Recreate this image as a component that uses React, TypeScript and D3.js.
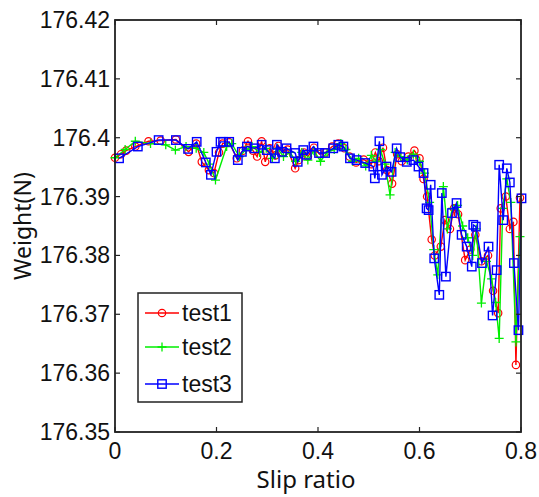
import React from "react";
import * as d3 from "d3";

const xTicks = [0, 0.2, 0.4, 0.6, 0.8];
const xTickLabels = ["0", "0.2", "0.4", "0.6", "0.8"];
const yTicks = [176.35, 176.36, 176.37, 176.38, 176.39, 176.4, 176.41, 176.42];
const yTickLabels = ["176.35", "176.36", "176.37", "176.38", "176.39", "176.4", "176.41", "176.42"];

const test1X = [0.000,0.012,0.022,0.040,0.066,0.090,0.120,0.145,0.160,0.171,0.185,0.195,0.205,0.212,0.225,0.240,0.252,0.262,0.272,0.280,0.289,0.296,0.305,0.316,0.322,0.330,0.340,0.355,0.362,0.372,0.380,0.392,0.403,0.415,0.428,0.440,0.452,0.462,0.475,0.490,0.505,0.513,0.520,0.528,0.536,0.546,0.556,0.565,0.578,0.590,0.600,0.608,0.615,0.624,0.630,0.642,0.650,0.660,0.668,0.676,0.690,0.700,0.710,0.722,0.735,0.745,0.755,0.760,0.770,0.778,0.785,0.790,0.798];
const test1Y = [176.3966,176.3972,176.3978,176.3985,176.3994,176.3995,176.3997,176.3976,176.3990,176.3959,176.3945,176.3940,176.3975,176.3990,176.3992,176.3965,176.3978,176.3994,176.3978,176.3968,176.3994,176.3959,176.3982,176.3970,176.3986,176.3975,176.3980,176.3948,176.3962,176.3975,176.3968,176.3983,176.3972,176.3975,176.3985,176.3990,176.3982,176.3968,176.3958,176.3963,176.3955,176.3975,176.3960,176.3983,176.3945,176.3922,176.3972,176.3960,176.3968,176.3978,176.3965,176.3930,176.3900,176.3827,176.3800,176.3815,176.3860,176.3845,176.3880,176.3870,176.3792,176.3810,176.3835,176.3790,176.3800,176.3740,176.3702,176.3880,176.3900,176.3845,176.3857,176.3614,176.3898];

const test2X = [0.000,0.020,0.040,0.070,0.100,0.119,0.140,0.160,0.175,0.186,0.198,0.220,0.230,0.245,0.258,0.270,0.285,0.298,0.310,0.320,0.332,0.345,0.356,0.368,0.380,0.392,0.405,0.418,0.432,0.445,0.455,0.468,0.480,0.494,0.505,0.515,0.523,0.532,0.542,0.552,0.563,0.576,0.588,0.600,0.610,0.620,0.628,0.636,0.647,0.655,0.665,0.675,0.685,0.695,0.705,0.712,0.722,0.732,0.742,0.750,0.757,0.764,0.772,0.780,0.790,0.798];
const test2Y = [176.3966,176.3980,176.3994,176.3990,176.3988,176.3979,176.3985,176.3982,176.3975,176.3955,176.3928,176.3985,176.3990,176.3968,176.3980,176.3985,176.3975,176.3982,176.3965,176.3982,176.3968,176.3975,176.3960,176.3975,176.3962,176.3978,176.3960,176.3975,176.3980,176.3990,176.3980,176.3960,176.3965,176.3952,176.3970,176.3960,176.3980,176.3955,176.3903,176.3975,176.3968,176.3962,176.3972,176.3960,176.3940,176.3890,176.3810,176.3767,176.3917,176.3845,176.3880,176.3885,176.3850,176.3830,176.3800,176.3845,176.3719,176.3790,176.3760,176.3720,176.3659,176.3880,176.3930,176.3890,176.3653,176.3832];

const test3X = [0.008,0.045,0.086,0.120,0.144,0.161,0.179,0.189,0.200,0.208,0.213,0.225,0.242,0.250,0.260,0.275,0.289,0.299,0.315,0.319,0.329,0.338,0.355,0.360,0.371,0.378,0.391,0.402,0.414,0.430,0.440,0.450,0.463,0.476,0.493,0.509,0.512,0.521,0.526,0.535,0.545,0.555,0.562,0.575,0.588,0.598,0.608,0.614,0.618,0.622,0.629,0.639,0.644,0.652,0.664,0.673,0.683,0.693,0.703,0.706,0.711,0.723,0.736,0.744,0.752,0.757,0.765,0.772,0.778,0.786,0.795,0.801];
const test3Y = [176.3965,176.3985,176.3996,176.3996,176.3981,176.3993,176.3958,176.3937,176.3976,176.3993,176.3993,176.3993,176.3962,176.3976,176.3985,176.3982,176.3988,176.3979,176.3965,176.3988,176.3976,176.3982,176.3974,176.3959,176.3979,176.3971,176.3985,176.3974,176.3974,176.3982,176.3988,176.3985,176.3965,176.3962,176.3957,176.3951,176.3931,176.3994,176.3937,176.3951,176.3942,176.3982,176.3967,176.3959,176.3962,176.3951,176.3940,176.3880,176.3877,176.3920,176.3795,176.3733,176.3906,176.3764,176.3872,176.3889,176.3835,176.3815,176.3781,176.3852,176.3849,176.3787,176.3815,176.3698,176.3775,176.3954,176.3860,176.3948,176.3924,176.3787,176.3673,176.3897];

const W = 539, H = 497;
const L = 115, R = 521, T = 20, B = 432;

export default function App() {
  const x = d3.scaleLinear().domain([0, 0.8]).range([L, R]);
  const y = d3.scaleLinear().domain([176.35, 176.42]).range([B, T]);
  const line = d3.line<[number, number]>().x(d => x(d[0])).y(d => y(d[1]));

  const series = [
    { name: "test1", xs: test1X, ys: test1Y, color: "#ff0000", marker: "circle" },
    { name: "test2", xs: test2X, ys: test2Y, color: "#00ee00", marker: "plus" },
    { name: "test3", xs: test3X, ys: test3Y, color: "#0000ff", marker: "square" },
  ];

  const marker = (kind: string, cx: number, cy: number, color: string, key: any) => {
    if (kind === "circle") return <circle key={key} cx={cx} cy={cy} r={3.7} fill="none" stroke={color} strokeWidth={1.2} />;
    if (kind === "plus") return <path key={key} d={`M${cx - 4.5},${cy}H${cx + 4.5}M${cx},${cy - 4.5}V${cy + 4.5}`} stroke={color} strokeWidth={1.3} fill="none" />;
    return <rect key={key} x={cx - 4.2} y={cy - 4.2} width={8.4} height={8.4} fill="none" stroke={color} strokeWidth={1.4} />;
  };

  const tickFont = "'Liberation Sans', Arial, sans-serif";

  return (
    <svg width={W} height={H} style={{ position: "absolute", left: 0, top: 0, background: "#fff" }}>
      <rect x={0} y={0} width={W} height={H} fill="#fff" />
      {series.map(s => {
        const pts: [number, number][] = s.xs.map((v, i) => [v, s.ys[i]]);
        return (
          <g key={s.name}>
            <path d={line(pts) || ""} fill="none" stroke={s.color} strokeWidth={1.4} />
            {pts.map((p, i) => marker(s.marker, x(p[0]), y(p[1]), s.color, i))}
          </g>
        );
      })}
      <rect x={L} y={T} width={R - L} height={B - T} fill="none" stroke="#222" strokeWidth={1.8} />
      {xTicks.map((t, i) => (
        <g key={"xt" + i}>
          <line x1={x(t)} x2={x(t)} y1={B} y2={B - 5} stroke="#222" strokeWidth={1.2} />
          <line x1={x(t)} x2={x(t)} y1={T} y2={T + 5} stroke="#222" strokeWidth={1.2} />
          <text x={x(t)} y={459} textAnchor="middle" fontFamily={tickFont} fontSize={23} fill="#111">{xTickLabels[i]}</text>
        </g>
      ))}
      {yTicks.map((t, i) => (
        <g key={"yt" + i}>
          <line x1={L} x2={L + 5} y1={y(t)} y2={y(t)} stroke="#222" strokeWidth={1.2} />
          <line x1={R} x2={R - 5} y1={y(t)} y2={y(t)} stroke="#222" strokeWidth={1.2} />
          <text x={110} y={y(t) + 8} textAnchor="end" fontFamily={tickFont} fontSize={23} fill="#111">{yTickLabels[i]}</text>
        </g>
      ))}
      <text x={306} y={488} textAnchor="middle" fontFamily="'Noto Sans', sans-serif" fontSize={24} fill="#111">Slip ratio</text>
      <text transform={`translate(31,226) rotate(-90)`} textAnchor="middle" fontFamily="'Noto Sans', sans-serif" fontSize={23} fill="#111">Weight(N)</text>
      <rect x={138} y={293} width={104} height={109} fill="#fff" stroke="#222" strokeWidth={1.5} />
      {series.map((s, i) => {
        const ly = [313, 347, 384][i];
        return (
          <g key={"lg" + i}>
            <line x1={145} x2={179} y1={ly} y2={ly} stroke={s.color} strokeWidth={1.4} />
            {marker(s.marker, 162, ly, s.color, "m")}
            <text x={182} y={ly + 8} fontFamily={tickFont} fontSize={23} fill="#111">{s.name}</text>
          </g>
        );
      })}
    </svg>
  );
}
